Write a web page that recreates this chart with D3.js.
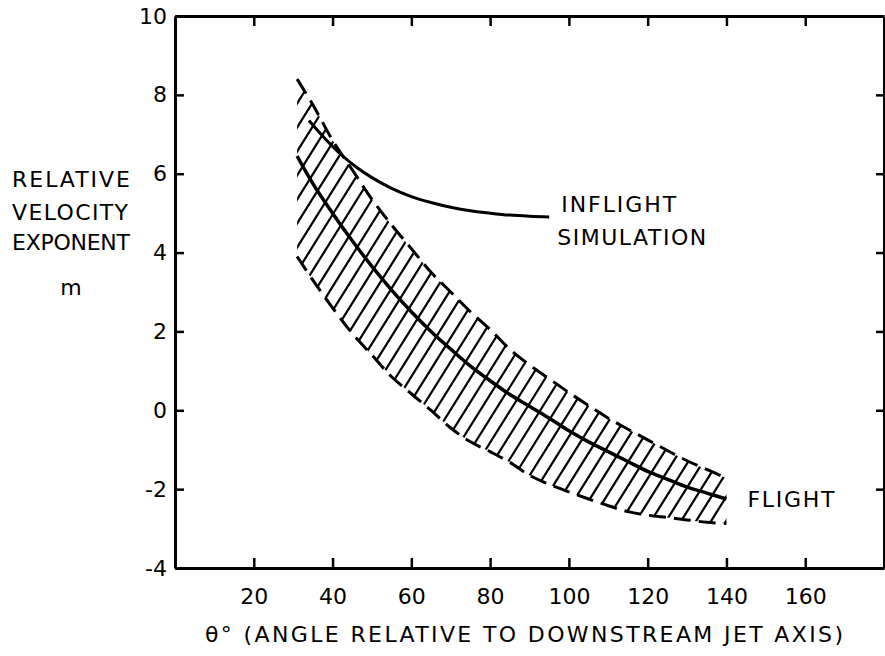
<!DOCTYPE html>
<html>
<head>
<meta charset="utf-8">
<script src="https://cdn.jsdelivr.net/npm/d3@7"></script>
<style>
  body { margin: 0; background: #fff; }
  #host text { font-family: "DejaVu Sans", sans-serif; fill: #000; }
</style>
</head>
<body>
<div id="host"></div>
<script>
// Layout constants
const width = 885;
const height = 656;
const FONT = 22;

// Data (theta in degrees, m)
const angleDeg = [31, 35, 40, 45, 50, 55, 60, 65, 70, 75, 80, 85, 90, 95, 100, 105, 110, 115, 120, 125, 130, 135, 140];
const flightM = [6.45, 5.75, 5.0, 4.3, 3.65, 3.05, 2.5, 2.0, 1.55, 1.12, 0.75, 0.4, 0.1, -0.2, -0.52, -0.8, -1.05, -1.3, -1.55, -1.75, -1.95, -2.1, -2.25];
const upperM = [8.4, 7.75, 6.85, 6.1, 5.35, 4.7, 4.1, 3.5, 3.0, 2.5, 2.05, 1.55, 1.15, 0.8, 0.45, 0.12, -0.2, -0.48, -0.75, -1.02, -1.28, -1.5, -1.72];
const lowerM = [3.9, 3.3, 2.6, 1.95, 1.4, 0.85, 0.42, 0.0, -0.45, -0.8, -1.05, -1.32, -1.65, -1.88, -2.07, -2.25, -2.42, -2.57, -2.66, -2.72, -2.78, -2.84, -2.87];
const inflightDeg = [34, 38, 42, 46, 50, 55, 60, 65, 70, 75, 80, 85, 90, 95];
const inflightM = [7.35, 6.9, 6.5, 6.17, 5.9, 5.63, 5.42, 5.27, 5.15, 5.06, 5.0, 4.95, 4.92, 4.9];

// Tick values
const xTicks = [20, 40, 60, 80, 100, 120, 140, 160];
const yTicks = [-4, -2, 0, 2, 4, 6, 8, 10];
const frameTicks = [-2, 0, 2, 4, 6, 8];

const svg = d3.select("#host")
    .append("svg")
    .attr("width", width)
    .attr("height", height);

const x = d3.scaleLinear().domain([0, 180]).range([175, 884]);
const y = d3.scaleLinear().domain([-4, 10]).range([568, 16]);

const band = angleDeg.map((a, i) => ({a: a, f: flightM[i], hi: upperM[i], lo: lowerM[i]}));
const inflight = inflightDeg.map((a, i) => ({a: a, m: inflightM[i]}));

// Frame with inward ticks
function styleAxis(g) {
    g.select(".domain").attr("stroke", "#000").attr("stroke-width", 3);
    g.selectAll(".tick line").attr("stroke", "#000").attr("stroke-width", 2.5);
    g.selectAll(".tick text").attr("font-size", FONT);
}

svg.append("g")
    .attr("transform", `translate(0,${y(-4)})`)
    .call(d3.axisBottom(x).tickValues(xTicks).tickSize(-10).tickSizeOuter(0)
        .tickPadding(20).tickFormat(d => String(d)))
    .call(styleAxis);

svg.append("g")
    .attr("transform", `translate(0,${y(10)})`)
    .call(d3.axisTop(x).tickValues(xTicks).tickSize(-10).tickSizeOuter(0).tickFormat(""))
    .call(styleAxis);

svg.append("g")
    .attr("transform", `translate(${x(0)},0)`)
    .call(d3.axisLeft(y).tickValues(yTicks).tickSize(-9).tickSizeOuter(0)
        .tickPadding(8).tickFormat(d => String(d)))
    .call(styleAxis);

svg.append("g")
    .attr("transform", `translate(${x(180)},0)`)
    .call(d3.axisRight(y).tickValues(frameTicks).tickSize(-8).tickSizeOuter(0).tickFormat(""))
    .call(styleAxis);

// Hatched band between the dashed bounds
const area = d3.area()
    .x(d => x(d.a))
    .y0(d => y(d.lo))
    .y1(d => y(d.hi))
    .curve(d3.curveCatmullRom);

svg.append("clipPath").attr("id", "bandClip")
    .append("path").attr("d", area(band));

const hatchTop = y(9);
const hatchBottom = y(-3.5);
const slope = 1.6;
const run = (hatchBottom - hatchTop) / slope;
const starts = d3.range(x(angleDeg[0]) - run, x(angleDeg[angleDeg.length - 1]) + 2, 15);

svg.append("g")
    .attr("clip-path", "url(#bandClip)")
    .selectAll("line")
    .data(starts)
    .join("line")
    .attr("x1", d => d)
    .attr("y1", hatchBottom)
    .attr("x2", d => d + run)
    .attr("y2", hatchTop)
    .attr("stroke", "#000")
    .attr("stroke-width", 2.2);

const line = (key) => d3.line()
    .x(d => x(d.a))
    .y(d => y(d[key]))
    .curve(d3.curveCatmullRom);

// Dashed bounds
for (const key of ["hi", "lo"]) {
    svg.append("path")
        .attr("d", line(key)(band))
        .attr("fill", "none")
        .attr("stroke", "#000")
        .attr("stroke-width", 3)
        .attr("stroke-dasharray", "17,8");
}

// Flight curve
svg.append("path")
    .attr("d", line("f")(band))
    .attr("fill", "none")
    .attr("stroke", "#000")
    .attr("stroke-width", 3.5);

// Inflight simulation curve
svg.append("path")
    .attr("d", line("m")(inflight))
    .attr("fill", "none")
    .attr("stroke", "#000")
    .attr("stroke-width", 3);

// Labels
function label(txt, px, py, len, anchor) {
    const t = svg.append("text")
        .attr("x", px)
        .attr("y", py)
        .attr("font-size", FONT)
        .attr("text-anchor", anchor || "start")
        .text(txt);
    if (len) t.attr("textLength", len).attr("lengthAdjust", "spacing");
    return t;
}

const inEnd = inflight[inflight.length - 1];
label("INFLIGHT", x(inEnd.a) + 12, y(inEnd.m) - 5, 115);
label("SIMULATION", x(inEnd.a) + 8, y(inEnd.m) + 28, 149);

const flEnd = band[band.length - 1];
label("FLIGHT", x(flEnd.a) + 21, y(flEnd.f) + 8, 87);

label("RELATIVE", 12, 187, 118);
label("VELOCITY", 12, 220, 116);
label("EXPONENT", 12, 250, 118);
label("m", 71, 295, null, "middle");

label("\u03b8\u00b0 (ANGLE RELATIVE TO DOWNSTREAM JET AXIS)", 205, 642, 638);
</script>
</body>
</html>
